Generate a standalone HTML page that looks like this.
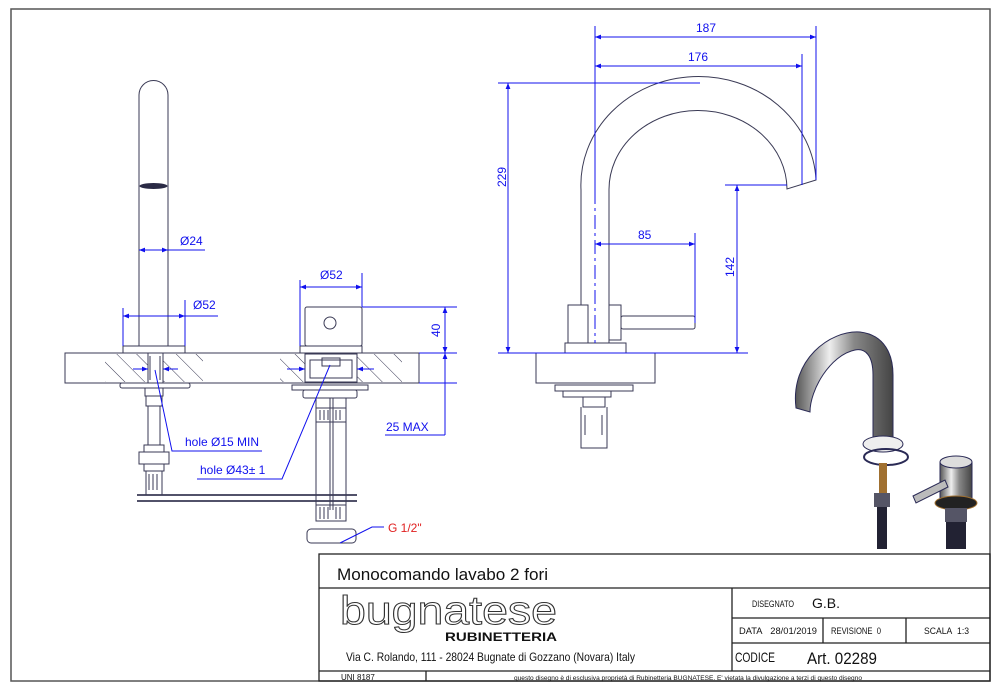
<!DOCTYPE html>
<html><head><meta charset="utf-8"><style>
html,body{margin:0;padding:0;background:#fff;width:1000px;height:690px;overflow:hidden}
svg{display:block;font-family:"Liberation Sans",sans-serif}
.k{stroke:#3a3a55;stroke-width:1;fill:none}
.kf{stroke:#3a3a55;stroke-width:1;fill:#fff}
.b{stroke:#1010ee;stroke-width:1;fill:none}
.bt{fill:#1010ee;font-size:12px}
.tn{font-family:"Liberation Sans Narrow","Liberation Sans",sans-serif;fill:#111}
</style></head><body>
<svg width="1000" height="690" viewBox="0 0 1000 690" xmlns="http://www.w3.org/2000/svg">
<defs>
<marker id="a" viewBox="0 0 10 10" refX="10" refY="5" markerWidth="9" markerHeight="6" orient="auto-start-reverse"><path d="M0,1 L10,5 L0,9 z" fill="#1010ee"/></marker>
<linearGradient id="chrome" x1="0" y1="0" x2="1" y2="0"><stop offset="0" stop-color="#555"/><stop offset=".35" stop-color="#eee"/><stop offset=".6" stop-color="#888"/><stop offset="1" stop-color="#444"/></linearGradient>
<pattern id="hatch" width="14" height="14" patternUnits="userSpaceOnUse" patternTransform="rotate(-45)"><line x1="0" y1="0" x2="0" y2="14" stroke="#3a3a55" stroke-width="1"/></pattern>
</defs>
<rect x="11" y="9" width="979" height="672" fill="none" stroke="#555" stroke-width="1.5"/>

<!-- LEFT spout elevation -->
<path class="k" d="M139,346 V95 A14.5,14.5 0 0 1 168,95 V346"/>
<ellipse cx="153.5" cy="186" rx="14" ry="3" fill="#2a2a45"/>
<rect class="kf" x="123" y="346" width="62" height="7"/>
<rect class="k" x="65" y="353" width="354" height="30"/>
<rect x="105" y="354" width="43" height="28" fill="url(#hatch)"/>
<rect x="163" y="354" width="40" height="28" fill="url(#hatch)"/>
<rect x="280" y="354" width="25" height="28" fill="url(#hatch)"/>
<rect x="357" y="354" width="45" height="28" fill="url(#hatch)"/>
<path class="k" d="M148,353 V383 M163,353 V383 M150,356 V380 M160,356 V380"/>
<rect class="kf" x="120" y="383" width="70" height="5" rx="2"/>
<rect class="k" x="145" y="388" width="18" height="8"/>
<rect class="k" x="146" y="396" width="16" height="10"/>
<path class="k" d="M148,406 V445 M160,406 V445"/>
<rect class="k" x="144" y="445" width="20" height="7"/>
<rect class="k" x="139" y="452" width="30" height="12"/>
<rect class="k" x="144" y="464" width="20" height="7"/>
<path class="k" d="M146,471 V495 M162,471 V495 M149,474 V490 M153,474 V490 M157,474 V490"/>
<path d="M137,495 H357 M137,501 H357" stroke="#3a3a55" stroke-width="1.8"/>

<!-- LEFT mixer elevation -->
<rect class="kf" x="305" y="307" width="57" height="39" rx="2"/>
<circle class="k" cx="330" cy="323" r="6"/>
<rect class="kf" x="300" y="346" width="62" height="7"/>
<rect class="k" x="305" y="354" width="52" height="28"/>
<path class="k" d="M310,360 h42 v18 h-42z M322,358 h18 v8 h-18z"/>
<rect class="kf" x="292" y="385" width="76" height="5"/>
<rect class="k" x="303" y="390" width="54" height="8" rx="2"/>
<path class="k" d="M316,398 V510 M330,398 V510 M333,398 V510 M346,398 V510"/>
<rect class="k" x="316" y="408" width="30" height="14"/>
<path class="k" d="M320,410 v10 M324,410 v10 M328,410 v10 M336,410 v10 M340,410 v10"/>
<rect class="k" x="316" y="505" width="30" height="16"/>
<path class="k" d="M320,507 v12 M324,507 v12 M328,507 v12 M336,507 v12 M340,507 v12"/>
<rect class="kf" x="307" y="529" width="49" height="14" rx="4"/>

<!-- left dims -->
<path class="b" d="M139,250 H205" marker-start="url(#a)"/>
<path class="b" d="M168,250 H139" marker-start="url(#a)"/>
<text class="bt" x="180" y="245">Ø24</text>
<path class="b" d="M123,308 V346 M185,300 V346"/>
<path class="b" d="M123,316 H185" marker-start="url(#a)" marker-end="url(#a)"/>
<path class="b" d="M185,316 H218"/>
<text class="bt" x="193" y="309">Ø52</text>
<path class="b" d="M300,280 V346 M362,273 V307"/>
<path class="b" d="M300,287 H362" marker-start="url(#a)" marker-end="url(#a)"/>
<text class="bt" x="320" y="279">Ø52</text>
<path class="b" d="M133,369 H148" marker-end="url(#a)"/><path class="b" d="M178,369 H163" marker-end="url(#a)"/>
<path class="b" d="M287,369 H305" marker-end="url(#a)"/><path class="b" d="M374,369 H357" marker-end="url(#a)"/>
<path class="b" d="M362,307 H457 M419,353 H457 M419,383 H457"/>
<path class="b" d="M445,307 V353" marker-start="url(#a)" marker-end="url(#a)"/>
<path class="b" d="M445,353 V435" marker-start="url(#a)"/>
<text class="bt" transform="translate(440,337) rotate(-90)">40</text>
<path class="b" d="M385,435 H445"/>
<text class="bt" x="386" y="431">25 MAX</text>
<path class="b" d="M155,370 L172,451 H262"/>
<text class="bt" x="185" y="446">hole Ø15 MIN</text>
<path class="b" d="M330,365 L282,479 H197"/>
<text class="bt" x="200" y="474">hole Ø43± 1</text>
<path class="b" d="M340,543 L372,527 H384"/>
<text x="388" y="532" fill="#e02020" font-size="12">G 1/2"</text>

<!-- RIGHT elevation -->
<path class="k" d="M581,343 V190 A116,107 0 0 1 816,180 L787,189 A89,79 0 0 0 609,190 V343"/>
<rect class="kf" x="568" y="305" width="20" height="38"/>
<rect class="kf" x="609" y="305" width="12" height="35"/>
<rect class="kf" x="621" y="316" width="74" height="13" rx="2"/>
<rect class="kf" x="565" y="343" width="61" height="10"/>
<rect class="k" x="536" y="353" width="119" height="30"/>
<rect class="kf" x="555" y="385" width="78" height="6"/>
<rect class="k" x="563" y="391" width="48" height="6"/>
<rect class="k" x="583" y="397" width="22" height="10"/>
<path class="k" d="M581,407 V448 H607 V407 M585,415 v20 M602,415 v20"/>
<path class="b" d="M595,26 V190"/>
<path class="b" d="M595,190 V343" stroke-dasharray="14,4,3,4"/>
<path class="b" d="M816,26 V180 M802,54 V185"/>
<path class="b" d="M595,37 H816" marker-start="url(#a)" marker-end="url(#a)"/>
<text class="bt" x="696" y="32">187</text>
<path class="b" d="M595,66 H802" marker-start="url(#a)" marker-end="url(#a)"/>
<text class="bt" x="688" y="61">176</text>
<path class="b" d="M498,83 H700 M498,353 H748 M725,185 H787 M695,233 V323"/>
<path class="b" d="M508,83 V353" marker-start="url(#a)" marker-end="url(#a)"/>
<text class="bt" transform="translate(506,187) rotate(-90)">229</text>
<path class="b" d="M737,185 V353" marker-start="url(#a)" marker-end="url(#a)"/>
<text class="bt" transform="translate(734,277) rotate(-90)">142</text>
<path class="b" d="M595,244 H695" marker-start="url(#a)" marker-end="url(#a)"/>
<text class="bt" x="638" y="239">85</text>

<!-- photo -->
<path d="M796,408 C790,360 830,330 860,332 C885,335 893,355 893,375 V440 L873,440 V375 C873,355 865,348 855,350 C830,355 810,390 810,412 Z" fill="url(#chrome)" stroke="#2a2a55" stroke-width="1"/>
<ellipse cx="883" cy="444" rx="20" ry="8" fill="#eee" stroke="#2a2a55"/>
<ellipse cx="886" cy="457" rx="22" ry="8" fill="none" stroke="#2a2a55" stroke-width="2"/>
<rect x="879" y="463" width="8" height="30" fill="#a07030"/>
<rect x="874" y="493" width="16" height="14" fill="#556"/>
<rect x="877" y="507" width="10" height="42" fill="#223"/>
<rect x="940" y="462" width="32" height="40" fill="url(#chrome)" stroke="#2a2a55"/>
<ellipse cx="956" cy="462" rx="16" ry="6" fill="#ddd" stroke="#2a2a55"/>
<path d="M913,496 L945,480 L948,487 L916,503 Z" fill="#bbb" stroke="#2a2a55"/>
<ellipse cx="956" cy="503" rx="21" ry="7" fill="#222" stroke="#a07030"/>
<rect x="945" y="508" width="22" height="14" fill="#556"/>
<rect x="946" y="522" width="20" height="27" fill="#223"/>

<!-- title block -->
<g stroke="#222" stroke-width="1.3" fill="none">
<rect x="319" y="554" width="671" height="127"/>
<path d="M319,588 H990 M732,588 V671 M732,618 H990 M732,643 H990 M823,618 V643 M906,618 V643 M319,671 H990 M426,671 V681"/>
</g>
<text class="tn" x="337" y="580" font-size="17" textLength="211" lengthAdjust="spacingAndGlyphs">Monocomando lavabo 2 fori</text>
<text x="340" y="624" font-size="40" fill="#fff" stroke="#333" stroke-width="1" textLength="217" lengthAdjust="spacingAndGlyphs">bugnatese</text>
<text x="445" y="641" font-size="12" font-weight="bold" fill="#111" textLength="112" lengthAdjust="spacingAndGlyphs">RUBINETTERIA</text>
<text class="tn" x="346" y="661" font-size="12" textLength="289" lengthAdjust="spacingAndGlyphs">Via C. Rolando, 111 - 28024 Bugnate di Gozzano (Novara) Italy</text>
<text class="tn" x="341" y="680" font-size="8">UNI 8187</text>
<text class="tn" x="514" y="680" font-size="6" textLength="348" lengthAdjust="spacingAndGlyphs">questo disegno è di esclusiva proprietà di Rubinetteria BUGNATESE. E' vietata la divulgazione a terzi di questo disegno</text>
<text class="tn" x="752" y="607" font-size="9" textLength="42" lengthAdjust="spacingAndGlyphs">DISEGNATO</text>
<text class="tn" x="812" y="608" font-size="14">G.B.</text>
<text class="tn" x="739" y="634" font-size="9" textLength="78" lengthAdjust="spacingAndGlyphs">DATA&#160;&#160;&#160;28/01/2019</text>
<text class="tn" x="831" y="634" font-size="9" textLength="50" lengthAdjust="spacingAndGlyphs">REVISIONE&#160;&#160;0</text>
<text class="tn" x="924" y="634" font-size="9" textLength="45" lengthAdjust="spacingAndGlyphs">SCALA&#160;&#160;1:3</text>
<text class="tn" x="735" y="662" font-size="14" textLength="40" lengthAdjust="spacingAndGlyphs">CODICE</text>
<text class="tn" x="807" y="664" font-size="17" textLength="70" lengthAdjust="spacingAndGlyphs">Art. 02289</text>
</svg>
</body></html>
